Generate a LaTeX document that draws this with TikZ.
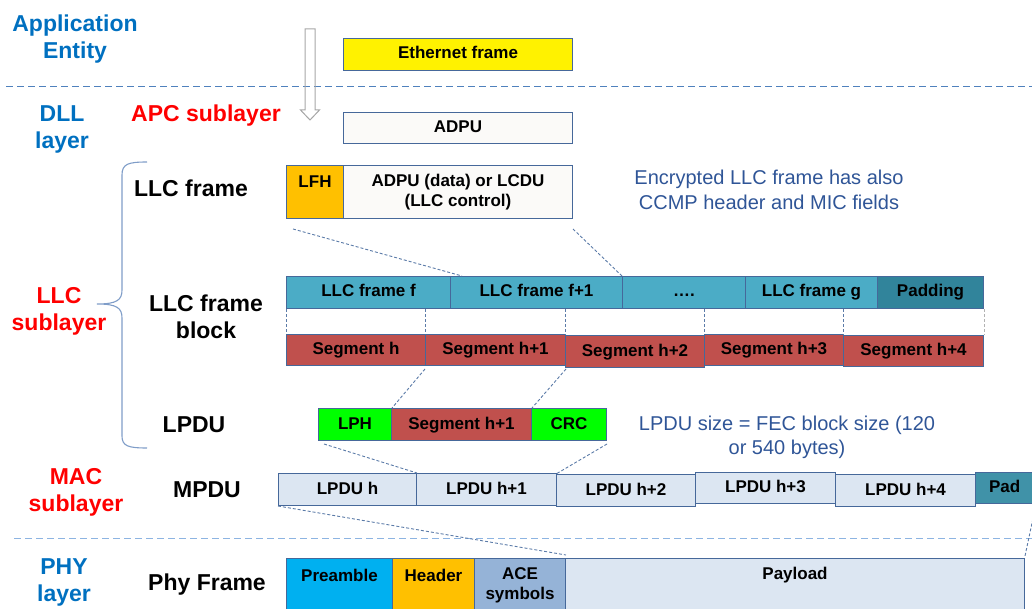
\documentclass[tikz,border=0pt]{standalone}
\usepackage{fontspec}
\setmainfont{Liberation Sans}
\usetikzlibrary{calc}
\definecolor{lblue}{HTML}{0070C0}
\definecolor{note}{HTML}{2F5597}
\definecolor{bord}{HTML}{46689A}
\definecolor{llcf}{HTML}{4BACC6}
\definecolor{padc}{HTML}{31849B}
\definecolor{segc}{HTML}{C0504D}
\definecolor{lpdc}{HTML}{DCE6F2}
\definecolor{orng}{HTML}{FFC000}
\definecolor{prea}{HTML}{00B0F0}
\definecolor{acec}{HTML}{95B3D7}
\definecolor{offw}{HTML}{FBFAF8}
\definecolor{grn}{HTML}{00FF00}
\definecolor{connc}{HTML}{5B7BA8}
\definecolor{bracec}{HTML}{7F9DC8}
\definecolor{sepdark}{HTML}{4F81BD}
\definecolor{seplight}{HTML}{8DB4E2}
\tikzset{
 cellbase/.style={draw=bord, line width=1pt, inner sep=0pt, anchor=north west,
   font=\fontsize{17}{20}\selectfont\bfseries, align=center},
 cell/.style={cellbase, text height=12pt, text depth=3pt},
 boxtxt/.style={font=\fontsize{17}{20.5}\selectfont\bfseries, align=center, inner sep=0pt},
 big/.style={font=\fontsize{23}{27}\selectfont\bfseries, align=center, inner sep=0pt},
 layerlbl/.style={big, text=lblue, yshift=-3pt},
 sublbl/.style={big, text=red, yshift=-3pt},
 notetxt/.style={font=\fontsize{20}{24.5}\selectfont, text=note, align=center, inner sep=0pt},
 conn/.style={draw=connc, dash pattern=on 3pt off 2pt, line width=0.9pt},
 vsep/.style={draw=connc, dash pattern=on 3pt off 2pt, line width=0.8pt},
 hsep/.style={draw=#1, dash pattern=on 7pt off 4pt, line width=1pt},
}
\begin{document}
\begin{tikzpicture}[x=1pt,y=-1pt]
\useasboundingbox (0,0) rectangle (1032,609);
\clip (0,0) rectangle (1032,609);

% layer separators
\coordinate (s1a) at (6,87);
\coordinate (s1b) at (1032,87);
\coordinate (s2a) at (14,538);
\coordinate (s2b) at (1032,538);
\draw[hsep=sepdark] (s1a) -- (s1b);
\draw[hsep=seplight] (s2a) -- (s2b);

% hollow arrow
\draw[draw=black!35, line width=1pt] (305,29) -- (315,29) -- (315,110) -- (319.5,110)
  -- (310,120) -- (300.5,110) -- (305,110) -- cycle;

% left labels
\node[layerlbl] (appent) at (75,36.5) {Application\\Entity};
\node[layerlbl] (dll) at (62,126.5) {DLL\\layer};
\node[sublbl] (apc) at (206,113) {APC sublayer};
\node[sublbl] (llcsub) at (59,308) {LLC\\sublayer};
\node[sublbl] (macsub) at (76,489) {MAC\\sublayer};
\node[layerlbl] (phy) at (64,579.5) {PHY\\layer};

\node[big] (lllcframe) at (191,188) {LLC frame};
\node[big] (lblock) at (206,317) {LLC frame\\block};
\node[big] (llpdu) at (194,425) {LPDU};
\node[big] (lmpdu) at (207,490) {MPDU};
\node[big, yshift=-3pt] (lphy) at (207,582) {Phy Frame};

% brace
\draw[draw=bracec, line width=1.1pt] (147,162) .. controls (128,162) and (122,164) .. (122,175)
  -- (122,290) .. controls (122,300) and (117,304) .. (97,304)
  .. controls (117,304) and (122,308) .. (122,318)
  -- (122,436) .. controls (122,446) and (128,448) .. (147,448);

% Ethernet / ADPU
\node[cell, fill=yellow, minimum width=229pt, minimum height=32pt] (eth) at (343,38) {Ethernet frame};
\node[cell, fill=offw, minimum width=229pt, minimum height=31pt] (adpu) at (343,112) {ADPU};

% LLC frame
\node[cell, fill=orng, minimum width=57pt, minimum height=53pt] (lfh) at (286,165) {};
\node[boxtxt] (lfht) at ($(lfh.north)+(0,17)$) {LFH};
\node[cellbase, fill=offw, minimum width=229pt, minimum height=53pt] (adpud) at (343,165) {ADPU (data) or LCDU\\(LLC control)};

\node[notetxt] (encnote) at (769,190) {Encrypted LLC frame has also\\CCMP header and MIC fields};

% LLC frame block
\node[cell, fill=llcf, minimum width=164pt, minimum height=32pt] (f0) at (286,276) {LLC frame f};
\node[cell, fill=llcf, minimum width=172pt, minimum height=32pt] (f1) at (450,276) {LLC frame f+1};
\node[cell, fill=llcf, minimum width=123pt, minimum height=32pt] (fd) at (622,276) {\dots.};
\node[cell, fill=llcf, minimum width=132pt, minimum height=32pt] (fg) at (745,276) {LLC frame g};
\node[cell, fill=padc, minimum width=106pt, minimum height=32pt] (fpad) at (877,276) {Padding};

% segments
\node[cell, fill=segc, minimum width=139pt, minimum height=31pt] (s0) at (286,334) {Segment h};
\node[cell, fill=segc, minimum width=140pt, minimum height=31pt] (s1) at (425,334) {Segment h+1};
\node[cell, fill=segc, minimum width=139pt, minimum height=32pt] (s2) at (565,335) {Segment h+2};
\node[cell, fill=segc, minimum width=139pt, minimum height=31pt] (s3) at (704,334) {Segment h+3};
\node[cell, fill=segc, minimum width=140pt, minimum height=31pt] (s4) at (843,335) {Segment h+4};

% vertical separators
\draw[vsep] (f0.south west) -- (s0.north west);
\draw[vsep] (s1.north west |- f0.south) -- (s1.north west);
\draw[vsep] (s2.north west |- f0.south) -- (s2.north west);
\draw[vsep] (s3.north west |- f0.south) -- (s3.north west);
\draw[vsep] (s4.north west |- f0.south) -- (s4.north west);
\draw[vsep, draw=black!30] (fpad.south east) -- (s4.north east);

% LLC frame -> block connectors
\draw[conn] ($(lfh.south west)+(7,10)$) -- ($(f1.north west)+(12,0)$);
\draw[conn] ($(adpud.south east)+(0,10)$) -- (fd.north west);

% LPDU
\node[cell, fill=grn, minimum width=73pt, minimum height=32pt] (lph) at (318,408) {LPH};
\node[cell, fill=segc, minimum width=140pt, minimum height=32pt] (lseg) at (391,408) {Segment h+1};
\node[cell, fill=grn, minimum width=75pt, minimum height=32pt] (crc) at (531,408) {CRC};

\draw[conn] ($(s1.south west)+(0,3)$) -- (lph.north east);
\draw[conn] ($(s1.south east)+(0,3)$) -- (lseg.north east);

\node[notetxt, yshift=-2pt] (lpdunote) at (787,435.5) {LPDU size = FEC block size (120\\or 540 bytes)};

% MPDU
\node[cell, fill=lpdc, minimum width=138pt, minimum height=32pt] (m0) at (278,473) {LPDU h};
\node[cell, fill=lpdc, minimum width=140pt, minimum height=32pt] (m1) at (416,473) {LPDU h+1};
\node[cell, fill=lpdc, minimum width=139pt, minimum height=32pt] (m2) at (556,474) {LPDU h+2};
\node[cell, fill=lpdc, minimum width=140pt, minimum height=31pt] (m3) at (695,472) {LPDU h+3};
\node[cell, fill=lpdc, minimum width=140pt, minimum height=32pt] (m4) at (835,474) {LPDU h+4};
\node[cell, fill=llcf!85!black, minimum width=60pt, minimum height=31pt, text width=57pt, align=left] (mpad) at (975,472) {\hspace*{12pt}Pad};

\draw[conn] ($(lph.south west)+(6,3)$) -- (m0.north east);
\draw[conn] ($(crc.south east)+(0,3)$) -- (m2.north west);

% PHY frame
\node[cell, fill=prea, minimum width=106pt, minimum height=56pt] (pre) at (286,558) {};
\node[cell, fill=orng, minimum width=82pt, minimum height=56pt] (hdr) at (392,558) {};
\node[cell, fill=acec, minimum width=91pt, minimum height=56pt] (ace) at (474,558) {};
\node[cell, fill=lpdc, minimum width=459pt, minimum height=56pt] (pay) at (565,558) {};
\node[boxtxt] (pret) at ($(pre.north)+(0,17)$) {Preamble};
\node[boxtxt] (hdrt) at ($(hdr.north)+(0,17)$) {Header};
\node[boxtxt, anchor=north] (acet) at ($(ace.north)+(0,9)$) {ACE\\symbols};
\node[boxtxt] (payt) at ($(pay.north)+(0,17)$) {Payload};

\draw[conn] (m0.south west) -- ($(ace.north east)+(0,-3)$);
\draw[conn] (mpad.south east) -- ($(pay.north east)+(0,-2)$);
\end{tikzpicture}
\end{document}
